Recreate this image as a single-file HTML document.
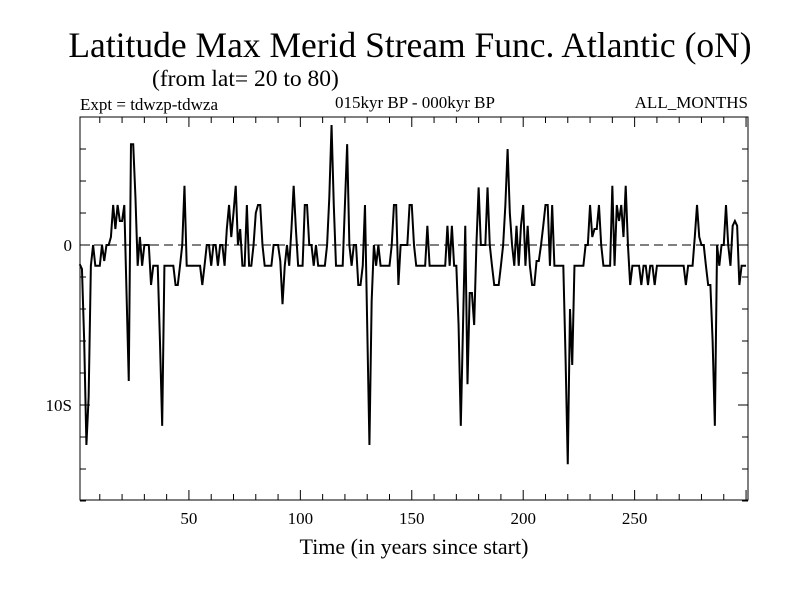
<!DOCTYPE html>
<html><head><meta charset="utf-8"><style>
body{margin:0;background:#fff;}
svg{display:block;font-family:"Liberation Serif",serif;}
</style></head><body>
<svg id="chart" width="800" height="600" viewBox="0 0 800 600">
<rect width="800" height="600" fill="#fff"/>
<text x="410" y="57" font-size="35.5" text-anchor="middle">Latitude Max Merid Stream Func. Atlantic (oN)</text>
<text x="152" y="86" font-size="23.5">(from lat= 20 to 80)</text>
<text x="80" y="110" font-size="17">Expt = tdwzp-tdwza</text>
<text x="415" y="108" font-size="17" text-anchor="middle">015kyr BP - 000kyr BP</text>
<text x="748" y="108" font-size="17" text-anchor="end">ALL_MONTHS</text>
<text x="414" y="554" font-size="22" text-anchor="middle">Time (in years since start)</text>
<g id="axes"></g>
<g id="series"></g>
<rect x="80" y="117" width="668" height="383" fill="none" stroke="#000" stroke-width="1"/>
</svg>
<script>
const years0 = 1;
const values = [
-1.2,-1.5,-6,-12.5,-9.5,-1.3,0,-1.3,-1.3,-1.3,
0,-1,0,0,0.5,2.5,1,2.5,1.5,1.5,
2.5,-3,-8.5,6.3,6.3,3,-1.3,0.5,-1.3,0,
0,0,-2.5,-1.3,-1.3,-1.3,-6,-11.3,-1.3,-1.3,
-1.3,-1.3,-1.3,-2.5,-2.5,-1.3,0,3.7,-1.3,-1.3,
-1.3,-1.3,-1.3,-1.3,-1.3,-2.5,-1.3,0,0,-1.3,
0,0,-1.3,0,0,-1.3,1,2.5,0.5,2,
3.7,0,1,-1.3,-1.3,2.5,-1.3,-1.3,0,2,
2.5,2.5,0,-1.3,-1.3,-1.3,-1.3,0,0,0,
-1,-3.7,-1.3,0,-1.3,1,3.7,1,-1.3,-1.3,
-1.3,2.5,2.5,0,0,-1.3,0,-1.3,-1.3,-1.3,
-1.3,0,3,7.5,2.5,-1.3,-1.3,-1.3,-1.3,2.5,
6.3,0,-1.3,0,0,-2.5,-2.5,-1.3,2.5,-5,
-12.5,-3.5,0,-1.3,0,-1.3,-1.3,-1.3,-1.3,-1.3,
0,2.5,2.5,-2.5,0,0,0,0,2.5,2.5,
0,-1.3,-1.3,-1.3,-1.3,-1.3,1.2,-1.3,-1.3,-1.3,
-1.3,-1.3,-1.3,-1.3,-1.3,1.2,-1.3,1.2,-1.3,-1.3,
-5,-11.3,-5,1.2,-8.7,-3,-3,-5,0,3.6,
0,0,0,3.6,0,-1.3,-2.5,-2.5,-2.5,-1.3,
0,2.5,6,2,0,-1.3,1.2,-1.3,1.2,2.5,
-1.3,1.2,-1.3,-2.5,-2.5,-1,-1,0,1.2,2.5,
2.5,-1.3,2.5,-1.3,-1.3,-1.3,-1.3,-1.3,-7,-13.7,
-4,-7.5,-1.3,-1.3,-1.3,-1.3,-1.3,0,0,2.5,
0.5,1,1,2.5,0,-1.3,-1.3,-1.3,-1.3,3.7,
-1.3,2.5,1.5,2.5,0.5,3.7,0,-2.5,-1.3,-1.3,
-1.3,-1.3,-2.5,-1.3,-1.3,-2.5,-1.3,-1.3,-2.5,-1.3,
-1.3,-1.3,-1.3,-1.3,-1.3,-1.3,-1.3,-1.3,-1.3,-1.3,
-1.3,-1.3,-2.5,-1.3,-1.3,-1.3,0.5,2.5,0.5,0,
0,-1.3,-2.5,-2.5,-6,-11.3,0,-1.3,0,0,
2.5,0,-1.3,1.2,1.5,1.2,-2.5,-1.3,-1.3,-1.3
];
const xTickLabels = [50,100,150,200,250];
const yTickValues = [0,-10];
const yTickLabels = ["0","10S"];
const NS='http://www.w3.org/2000/svg';
function xs(v){return 77.5+v*2.2285;}
function ys(v){return 245-16*v;}
const axes=document.getElementById('axes');
const series=document.getElementById('series');
function mk(tag,attrs,parent){const e=document.createElementNS(NS,tag);for(const k in attrs)e.setAttribute(k,attrs[k]);parent.appendChild(e);return e;}
for(let v=10;v<=300;v+=10){
  const major=v%50===0;const len=major?10:6;const X=xs(v);
  const t1=mk('line',{x1:X,x2:X,y1:500,y2:500-len,stroke:'#000','stroke-width':1},axes);
  
  
  const t2=mk('line',{x1:X,x2:X,y1:117,y2:117+len,stroke:'#000','stroke-width':1},axes);
  
  
}
xTickLabels.forEach(v=>{
  const t=mk('text',{x:xs(v),y:524,'font-size':17,'text-anchor':'middle'},axes);
  t.textContent=v;
  
  
});
for(let v=-16;v<=8;v+=2){
  const major=v%10===0;const len=major?10:6;const Y=ys(v);
  const a=mk('line',{x1:80,x2:80+len,y1:Y,y2:Y,stroke:'#000','stroke-width':1},axes);
  
  
  const b=mk('line',{x1:748,x2:748-len,y1:Y,y2:Y,stroke:'#000','stroke-width':1},axes);
  
  
}
yTickValues.forEach((v,i)=>{
  const t=mk('text',{x:72,y:ys(v)+6,'font-size':17,'text-anchor':'end'},axes);
  t.textContent=yTickLabels[i];
  
  
});
const zl=mk('line',{x1:80,x2:748,y1:ys(0),y2:ys(0),stroke:'#000','stroke-width':1,'stroke-dasharray':'9,5'},axes);


const pts=values.map((v,i)=>xs(years0+i).toFixed(2)+','+ys(v).toFixed(2)).join(' ');
const pl=mk('polyline',{points:pts,fill:'none',stroke:'#000','stroke-width':2,'stroke-linejoin':'miter'},series);


</script>
</body></html>
